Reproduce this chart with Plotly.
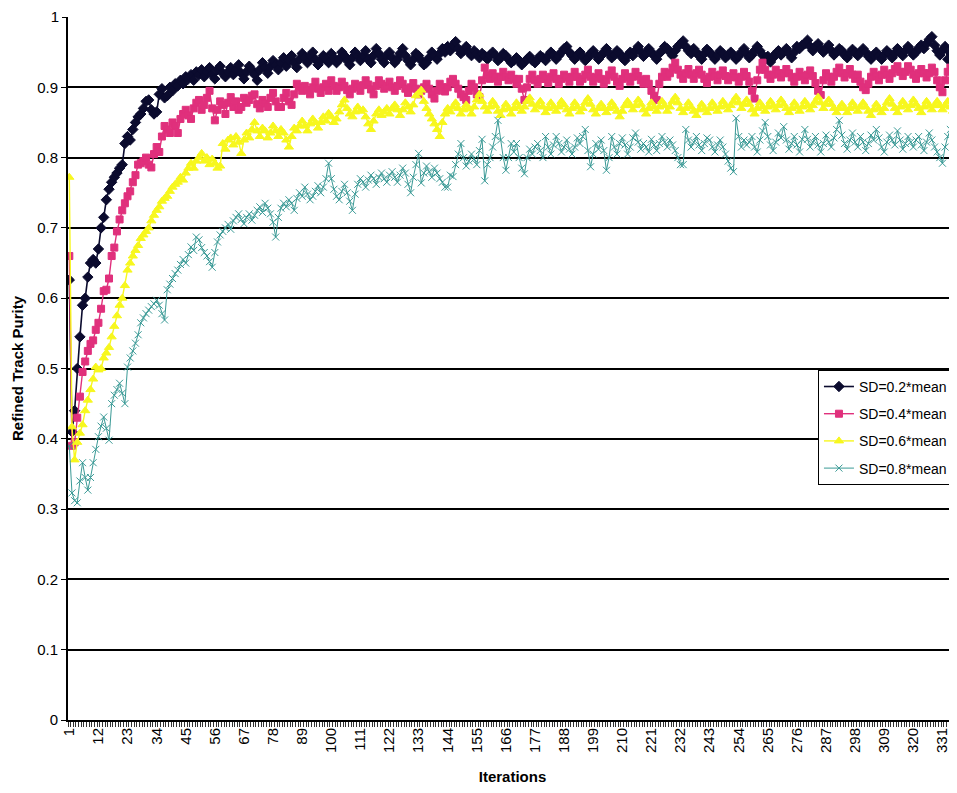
import plotly.graph_objects as go

series_names = ["SD=0.2*mean", "SD=0.4*mean", "SD=0.6*mean", "SD=0.8*mean"]

sd02 = [.626,.410,.440,.500,.545,.590,.600,.630,.650,.655,
.650,.670,.700,.715,.740,.755,.765,.772,.778,.785,
.790,.820,.830,.825,.840,.850,.858,.862,.870,.880,
.882,.868,.862,.865,.890,.898,.885,.888,.900,.895,
.905,.902,.910,.905,.915,.912,.918,.910,.922,.918,
.925,.915,.922,.928,.918,.912,.925,.930,.920,.915,
.922,.928,.918,.925,.932,.920,.912,.922,.930,.925,
.918,.910,.925,.935,.928,.920,.930,.938,.932,.925,
.935,.942,.930,.938,.945,.935,.928,.940,.948,.942,
.935,.945,.950,.940,.932,.938,.945,.940,.935,.948,
.942,.935,.940,.950,.945,.938,.932,.942,.950,.945,
.938,.945,.952,.940,.935,.945,.955,.948,.940,.935,
.945,.950,.942,.935,.940,.948,.955,.945,.938,.932,
.940,.948,.945,.938,.932,.935,.942,.950,.945,.940,
.948,.955,.950,.958,.952,.960,.965,.955,.948,.952,
.958,.950,.945,.952,.948,.942,.948,.945,.940,.946,
.950,.945,.938,.942,.948,.945,.940,.935,.938,.942,
.938,.932,.936,.940,.944,.938,.935,.940,.945,.942,
.938,.945,.950,.946,.940,.945,.950,.955,.958,.950,
.945,.940,.946,.950,.944,.938,.942,.948,.952,.946,
.940,.945,.950,.955,.948,.942,.946,.952,.948,.942,
.938,.945,.950,.945,.952,.958,.950,.944,.948,.955,
.950,.945,.940,.948,.952,.958,.955,.950,.945,.952,
.958,.962,.966,.958,.952,.948,.955,.950,.945,.940,
.948,.954,.950,.945,.940,.946,.952,.948,.942,.946,
.950,.945,.940,.944,.950,.955,.948,.942,.946,.952,
.958,.952,.946,.940,.944,.936,.942,.948,.952,.946,
.950,.955,.948,.942,.950,.958,.955,.960,.962,.967,
.958,.952,.958,.962,.955,.950,.955,.960,.952,.946,
.950,.955,.952,.946,.942,.948,.954,.950,.945,.950,
.955,.950,.944,.940,.946,.950,.945,.940,.946,.952,
.948,.942,.948,.955,.950,.945,.952,.958,.952,.946,
.950,.956,.960,.955,.962,.968,.972,.960,.952,.946,
.952,.958,.940,.950,.958,.955]

sd04 = [.660,.390,.395,.430,.460,.495,.510,.525,.535,.540,
.555,.565,.585,.610,.612,.628,.660,.672,.695,.712,
.725,.735,.745,.752,.765,.775,.790,.792,.795,.800,
.790,.786,.805,.815,.808,.830,.845,.840,.835,.850,
.845,.835,.855,.862,.868,.860,.855,.870,.878,.882,
.868,.875,.885,.895,.870,.853,.868,.880,.875,.862,
.878,.886,.872,.880,.868,.872,.885,.878,.882,.888,
.890,.876,.870,.882,.877,.872,.885,.892,.880,.872,
.872,.885,.892,.880,.875,.890,.905,.900,.895,.902,
.896,.890,.900,.908,.898,.892,.900,.905,.895,.910,
.902,.895,.900,.908,.902,.896,.890,.898,.905,.900,
.895,.903,.910,.904,.897,.890,.902,.910,.905,.898,
.902,.908,.900,.895,.902,.910,.905,.898,.892,.900,
.906,.898,.890,.895,.900,.905,.898,.890,.884,.895,
.905,.900,.894,.900,.908,.912,.905,.898,.890,.886,
.882,.895,.905,.900,.890,.886,.910,.928,.918,.912,
.920,.915,.908,.915,.922,.915,.910,.918,.912,.905,
.912,.898,.882,.900,.912,.918,.910,.905,.912,.918,
.912,.906,.915,.920,.912,.905,.912,.918,.914,.908,
.915,.922,.915,.908,.912,.918,.925,.915,.908,.914,
.920,.912,.905,.910,.918,.924,.915,.908,.902,.912,
.920,.914,.908,.915,.922,.916,.910,.905,.912,.905,
.895,.888,.882,.905,.915,.922,.915,.920,.928,.935,
.925,.918,.912,.920,.926,.918,.912,.920,.925,.918,
.912,.906,.915,.922,.916,.910,.918,.924,.916,.910,
.915,.920,.914,.908,.915,.922,.916,.908,.895,.884,
.910,.925,.935,.925,.918,.912,.918,.925,.920,.914,
.920,.926,.920,.914,.908,.915,.922,.916,.910,.918,
.924,.916,.906,.895,.889,.910,.920,.915,.908,.915,
.922,.928,.920,.914,.920,.926,.918,.912,.918,.908,
.900,.896,.905,.915,.922,.916,.910,.918,.925,.918,
.912,.920,.926,.930,.922,.916,.922,.930,.925,.918,
.912,.920,.926,.920,.914,.920,.928,.922,.910,.900,
.893,.910,.922,.928,.920,.925]

sd06 = [.772,.417,.370,.395,.408,.420,.440,.455,.470,.485,
.502,.498,.500,.515,.522,.530,.545,.560,.575,.590,
.600,.618,.640,.650,.660,.668,.675,.685,.690,.695,
.700,.710,.718,.725,.730,.738,.742,.745,.752,.758,
.762,.765,.772,.768,.778,.785,.792,.785,.795,.800,
.806,.795,.800,.790,.798,.792,.785,.788,.820,.812,
.825,.828,.818,.830,.822,.806,.825,.835,.828,.840,
.850,.838,.830,.842,.838,.828,.835,.845,.838,.830,
.840,.835,.825,.815,.830,.842,.838,.845,.852,.845,
.838,.848,.855,.850,.842,.850,.858,.852,.863,.858,
.850,.855,.865,.875,.882,.870,.862,.858,.865,.872,
.866,.868,.858,.848,.840,.852,.862,.868,.860,.865,
.870,.862,.870,.875,.868,.860,.868,.878,.872,.865,
.875,.888,.892,.896,.880,.870,.862,.855,.848,.840,
.830,.850,.862,.870,.865,.872,.878,.870,.862,.868,
.875,.870,.862,.872,.882,.890,.880,.872,.866,.872,
.880,.874,.866,.860,.868,.876,.870,.862,.870,.878,
.872,.866,.872,.880,.885,.876,.868,.874,.880,.872,
.864,.870,.878,.872,.866,.872,.880,.875,.868,.862,
.870,.878,.872,.865,.870,.878,.884,.876,.868,.862,
.870,.876,.870,.864,.870,.878,.872,.866,.858,.866,
.874,.880,.874,.868,.874,.882,.876,.868,.862,.870,
.878,.872,.866,.872,.880,.874,.866,.872,.880,.886,
.878,.870,.864,.870,.878,.872,.866,.860,.868,.876,
.870,.864,.870,.878,.872,.866,.872,.880,.874,.868,
.874,.880,.886,.878,.870,.876,.882,.876,.868,.862,
.870,.878,.872,.866,.872,.880,.874,.868,.874,.882,
.876,.870,.864,.870,.878,.872,.866,.872,.880,.874,
.868,.874,.880,.886,.878,.870,.876,.882,.876,.870,
.864,.870,.876,.870,.864,.870,.878,.872,.866,.872,
.878,.872,.866,.860,.868,.876,.870,.864,.870,.878,
.884,.876,.870,.864,.872,.880,.874,.868,.874,.882,
.876,.870,.864,.872,.880,.874,.868,.874,.880,.874,
.868,.874,.880,.872,.866,.872]

sd08 = [.390,.323,.312,.309,.340,.366,.345,.327,.345,.366,
.385,.403,.418,.431,.415,.398,.450,.462,.470,.479,
.465,.450,.502,.515,.525,.536,.548,.565,.572,.578,
.583,.588,.592,.597,.590,.578,.569,.612,.620,.628,
.635,.640,.648,.655,.650,.662,.673,.668,.687,.683,
.672,.665,.660,.652,.644,.665,.680,.690,.695,.700,
.705,.698,.710,.715,.720,.712,.706,.715,.720,.711,
.718,.725,.730,.722,.735,.728,.720,.708,.687,.715,
.728,.735,.730,.740,.735,.725,.742,.750,.745,.758,
.748,.740,.745,.752,.760,.750,.758,.770,.792,.770,
.755,.745,.740,.752,.762,.750,.738,.725,.748,.762,
.770,.765,.758,.768,.775,.770,.762,.772,.778,.770,
.765,.775,.780,.772,.765,.775,.785,.778,.762,.750,
.772,.790,.806,.764,.778,.788,.780,.772,.785,.778,
.770,.765,.758,.758,.775,.773,.790,.805,.820,.800,
.788,.795,.805,.798,.790,.810,.826,.767,.790,.800,
.815,.830,.853,.825,.800,.782,.800,.820,.808,.820,
.800,.785,.777,.800,.812,.805,.815,.820,.810,.800,
.830,.815,.805,.818,.830,.820,.808,.815,.825,.812,
.805,.815,.828,.820,.830,.840,.810,.787,.805,.820,
.812,.825,.810,.782,.800,.830,.815,.805,.820,.828,
.818,.805,.815,.828,.835,.822,.812,.820,.815,.808,
.826,.818,.810,.820,.830,.822,.815,.825,.818,.810,
.800,.790,.790,.840,.825,.815,.822,.830,.818,.810,
.820,.828,.825,.815,.808,.818,.825,.815,.805,.795,
.785,.780,.856,.830,.815,.825,.818,.822,.830,.815,
.808,.825,.838,.850,.830,.818,.810,.822,.835,.828,
.844,.825,.812,.820,.830,.818,.808,.826,.840,.826,
.815,.822,.830,.818,.808,.820,.832,.822,.815,.828,
.840,.853,.832,.820,.812,.825,.835,.822,.815,.830,
.822,.810,.820,.832,.825,.840,.828,.815,.808,.822,
.832,.825,.818,.838,.825,.812,.820,.830,.822,.815,
.825,.830,.818,.810,.822,.835,.825,.815,.808,.800,
.792,.815,.830,.840,.825,.818]

tick_cats = list(range(1, 332, 11))
tick_labels = [str(v) for v in tick_cats]
y_ticks = [round(0.1 * i, 1) for i in range(10)]
y_tick_labels = ["0"] + [f"{v:.1f}" for v in y_ticks[1:]]

styles = [
    dict(color="#0b0b2e", symbol="diamond", size=8, lw=1.6),
    dict(color="#e0307c", symbol="square", size=7, lw=1.4),
    dict(color="#f7f71e", symbol="triangle-up", size=8, lw=1.4),
    dict(color="#3a9a96", symbol="x-thin", size=7, lw=1.0),
]

fig = go.Figure()
for name, vals, st in zip(series_names, [sd02, sd04, sd06, sd08], styles):
    xs = list(range(1, len(vals) + 1))
    fig.add_trace(go.Scatter(
        x=xs, y=vals, name=name, mode="lines+markers", legendgroup=name,
        line=dict(color=st["color"], width=st["lw"]),
        marker=dict(symbol=st["symbol"], size=st["size"], color=st["color"],
                    line=dict(color=st["color"], width=1)),
    ))

# helper axis that carries only the top "1" label
fig.add_trace(go.Scatter(x=[None], y=[None], yaxis="y2", showlegend=False, hoverinfo="skip"))

font_main = "Liberation Sans, Arial, sans-serif"
fig.update_layout(
    width=949, height=777,
    margin=dict(l=60, r=0, t=9, b=65),
    paper_bgcolor="white", plot_bgcolor="white",
    font=dict(family=font_main, size=15, color="black"),
    showlegend=True,
    legend=dict(x=0.8436, y=0.498, xanchor="left", yanchor="top",
                bgcolor="white", bordercolor="black", borderwidth=1,
                font=dict(family="Liberation Sans Narrow, Arial Narrow, Liberation Sans, sans-serif", size=14),
                tracegroupgap=6, itemwidth=30),
    xaxis=dict(range=[0.5, 336.5], tickmode="array", tickvals=tick_cats, ticktext=tick_labels,
               tickangle=-90, ticks="", showgrid=False, zeroline=False, automargin=False,
               showline=True, linecolor="black", linewidth=2,
               tickfont=dict(size=15),
               minor=dict(tickmode="linear", tick0=0.5, dtick=1, ticks="outside",
                          ticklen=5, tickcolor="#333", tickwidth=1, showgrid=False),
               title=dict(text="<b>Iterations</b>", font=dict(size=15), standoff=27)),
    yaxis=dict(range=[0, 1], tickmode="array", tickvals=y_ticks, ticktext=y_tick_labels,
               ticks="outside", ticklen=5, tickcolor="black", tickwidth=1, automargin=False,
               showgrid=True, gridcolor="black", gridwidth=1.6, zeroline=False,
               showline=True, linecolor="black", linewidth=2,
               tickfont=dict(size=15),
               title=dict(text="<b>Refined Track Purity</b>", font=dict(size=15), standoff=10)),
    yaxis2=dict(range=[0, 1], overlaying="y", side="left", tickmode="array", automargin=False,
                tickvals=[1], ticktext=["1"], ticks="outside", ticklen=5, tickcolor="black",
                showgrid=False, zeroline=False, showline=False, tickfont=dict(size=15)),
)

fig.write_html("out.html")
